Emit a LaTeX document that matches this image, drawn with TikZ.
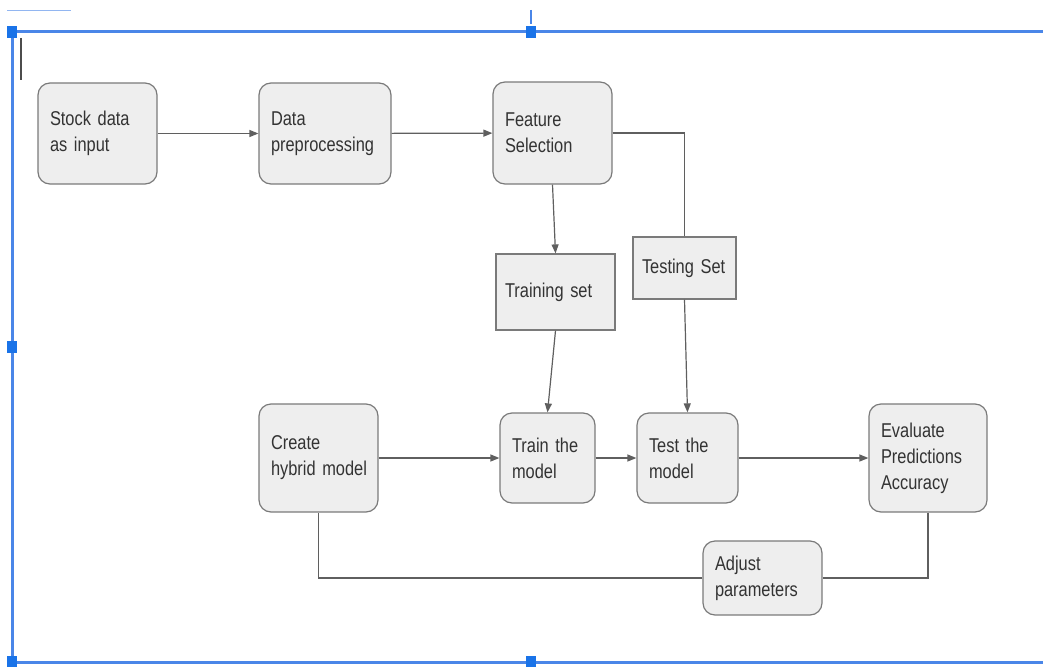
\documentclass[tikz,border=0pt]{standalone}
\usepackage{fontspec}
\setmainfont{Liberation Sans}[FakeStretch=0.82]
\usetikzlibrary{arrows.meta}
\definecolor{boxfill}{HTML}{EEEEEE}
\definecolor{boxline}{HTML}{7A7A7A}
\definecolor{arrowline}{HTML}{5F5F5F}
\definecolor{selblue}{HTML}{4A86E8}
\definecolor{handleblue}{HTML}{1A73E8}
\newcommand{\boxfont}{\fontsize{20}{26}\selectfont\spaceskip=4.5pt plus 1pt minus 1pt\relax}
\begin{document}
\begin{tikzpicture}[x=1pt,y=-1pt,
    stage/.style={draw=boxline, line width=1.2pt, fill=boxfill, rounded corners=12pt,
      align=left, inner xsep=12pt, inner ysep=0pt, text=black!80, font=\boxfont},
    dataset/.style={stage, sharp corners, inner xsep=9pt},
    flow/.style={draw=arrowline, line width=1.2pt, -{Triangle[length=9pt,width=7pt]}},
    link/.style={draw=arrowline, line width=1.2pt}]
        \useasboundingbox (0,0) rectangle (1043,666);

        % draw selection frame
        \draw[selblue, line width=3pt] (1043,32) -- (12,32) -- (12,662) -- (1043,662);
        \draw[selblue, line width=1.5pt] (531,10) -- (531,24);
        \draw[selblue!60, line width=1pt] (7,11) -- (71,11);
        \foreach \x/\y in {12/32,531/32,12/347,12/662,531/662}
          \fill[handleblue] (\x-5,\y-6) rectangle (\x+5,\y+6);
        \draw[black!70, line width=1.5pt] (21,38) -- (21,80);

        % draw nodes
        \node[stage, text width=95pt, minimum height=101pt] (stock) at (97.5,133.5) {Stock data\\as input};
        \node[stage, text width=108pt, minimum height=101pt] (prep) at (325,133.5) {Data\\preprocessing};
        \node[stage, text width=95pt, minimum height=102pt] (feature) at (552.5,133) {Feature\\Selection};
        \node[dataset, text width=101pt, minimum height=76pt] (trainset) at (555.5,292) {Training set};
        \node[dataset, text width=85pt, minimum height=62pt] (testset) at (684.5,268) {Testing Set};
        \node[stage, text width=95pt, minimum height=108pt] (hybrid) at (318.5,458) {Create\\\mbox{hybrid model}};
        \node[stage, text width=71pt, minimum height=90pt] (train) at (547.5,458) {Train the\\model};
        \node[stage, text width=77pt, minimum height=90pt] (test) at (687.5,458) {Test the\\model};
        \node[stage, text width=94pt, minimum height=108pt] (evaluate) at (928,458) {Evaluate\\Predictions\\Accuracy};
        \node[stage, text width=95pt, minimum height=74pt] (adjust) at (762.5,578) {Adjust\\parameters};

        % draw connectors
        \draw[flow] (stock) -- (prep);
        \draw[flow] (prep) -- (feature);
        \draw[flow] (feature.south) -- (trainset.north);
        \draw[link] (feature.east) -| (testset.north);
        \draw[flow] (trainset.south) -- (train.north);
        \draw[flow] (testset.south) -- (test.north);
        \draw[flow] (hybrid) -- (train);
        \draw[flow] (train) -- (test);
        \draw[flow] (test) -- (evaluate);
        \draw[link] (evaluate.south) |- (adjust.east);
        \draw[link] (adjust.west) -| (hybrid.south);
\end{tikzpicture}
\end{document}
